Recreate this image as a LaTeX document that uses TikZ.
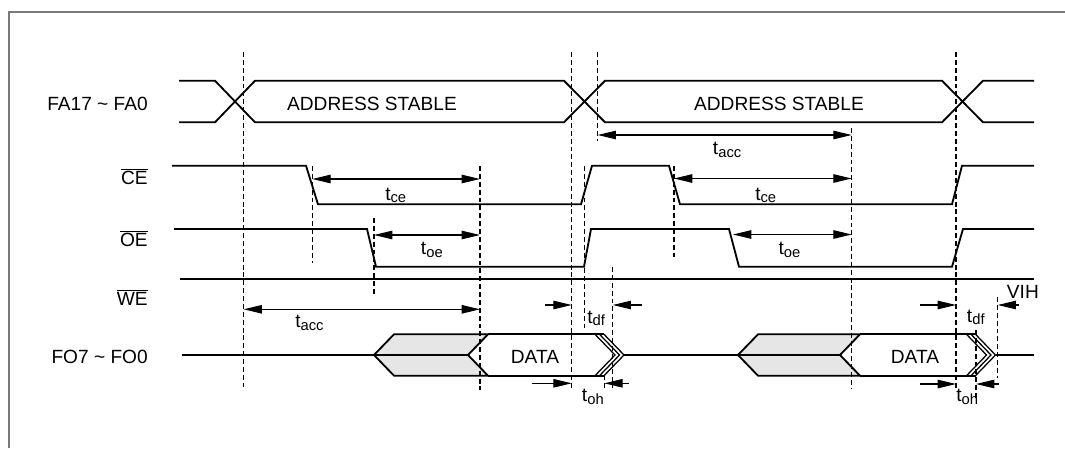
\documentclass[tikz,border=0pt]{standalone}
\usepackage{fontspec}
\setmainfont{Liberation Sans}
\usepackage{tikz}
\usetikzlibrary{arrows.meta}
\definecolor{framegray}{HTML}{7A7A7A}
\definecolor{datagray}{HTML}{E6E6E6}
\newcommand{\tsig}[1]{t\raisebox{-2pt}{\fontsize{10.5}{10.5}\selectfont #1}}
\newcommand{\ovl}[1]{$\overline{\mbox{#1}}$}

\begin{document}
\begin{tikzpicture}[x=0.025cm,y=-0.025cm,
  font=\fontsize{13.6}{15}\selectfont,
  >={Triangle[length=13pt,width=6pt]},
  sig/.style={line width=1.3pt},
  chev/.style={line width=0.9pt},
  guide/.style={line width=0.8pt,dash pattern=on 3.5pt off 2.1pt},
  dim/.style={line width=0.8pt,<->},
  onearr/.style={line width=0.8pt,->},
  signame/.style={anchor=base east,inner sep=0pt},
  lbl/.style={anchor=base,inner sep=0pt},
  tlbl/.style={anchor=base west,inner sep=0pt}
]
\useasboundingbox (0,0) rectangle (1065,448);
\draw[framegray,line width=1.1pt] (9,448) -- (9,12) -- (1065,12);

\node[signame] (fa) at (148,110) {FA17 \textasciitilde{} FA0};
\node[signame] (ce) at (148,184.3) {\ovl{CE}};
\node[signame] (oe) at (148,246.7) {\ovl{OE}};
\node[signame] (we) at (148,305) {\ovl{WE}};
\node[signame] (fo) at (148,363.3) {FO7 \textasciitilde{} FO0};

\draw[sig] (179,80.7) -- (215,80.7) -- (255,122.3) -- (564,122.3) -- (605,80.7) -- (942,80.7) -- (983,122.3) -- (1034,122.3);
\draw[sig] (179,122.3) -- (215,122.3) -- (255,80.7) -- (564,80.7) -- (605,122.3) -- (942,122.3) -- (983,80.7) -- (1034,80.7);
\node[lbl] (as1) at (372,110) {ADDRESS STABLE};
\node[lbl] (as2) at (779,110) {ADDRESS STABLE};

\draw[sig] (172,165.7) -- (306,165.7) -- (318,204.3) -- (581,204.3) -- (592,165.7) -- (669,165.7) -- (680,204.3) -- (952,204.3) -- (962,165.7) -- (1034,165.7);
\draw[sig] (174,229) -- (367,229) -- (376,266.7) -- (584,266.7) -- (591,229) -- (729,229) -- (739,266.7) -- (952,266.7) -- (963,229) -- (1034,229);
\draw[sig] (180,279.3) -- (1034,279.3);

\filldraw[sig,fill=datagray] (374,355) -- (394,334.3) -- (488,334.3) -- (468,355) -- (488,375.7) -- (394,375.7) -- cycle;
\draw[sig] (182,355) -- (468,355);
\draw[sig] (488,334.3) -- (604,334.3);
\draw[sig] (488,375.7) -- (604,375.7);
\draw[chev] (595,334.3) -- (615,355) -- (595,375.7);
\draw[chev] (599.5,334.3) -- (619.5,355) -- (599.5,375.7);
\draw[chev] (604,334.3) -- (624,355) -- (604,375.7);
\draw[sig] (624,355) -- (738,355);
\node[lbl] (data1) at (535,363.3) {DATA};

\filldraw[sig,fill=datagray] (738,355) -- (758,334.3) -- (860,334.3) -- (840,355) -- (860,375.7) -- (758,375.7) -- cycle;
\draw[sig] (738,355) -- (840,355);
\draw[sig] (860,334.3) -- (975.5,334.3);
\draw[sig] (860,375.7) -- (975.5,375.7);
\draw[chev] (966.5,334.3) -- (986.5,355) -- (966.5,375.7);
\draw[chev] (971,334.3) -- (991,355) -- (971,375.7);
\draw[chev] (975.5,334.3) -- (995.5,355) -- (975.5,375.7);
\draw[sig] (995.5,355) -- (1034,355);
\node[lbl] (data2) at (915,363.3) {DATA};

\draw[guide] (243.7,52) -- (243.7,387);
\draw[guide] (312.3,166) -- (312.3,263);
\draw[guide] (374,218) -- (374,294);
\draw[guide] (480,166) -- (480,390);
\draw[guide] (571.7,52) -- (571.7,388);
\draw[guide] (584.3,166) -- (584.3,328);
\draw[guide] (597.7,52) -- (597.7,141);
\draw[guide] (604.3,375) -- (604.3,390);
\draw[guide] (612.7,267) -- (612.7,388);
\draw[guide] (674,166) -- (674,257);
\draw[guide] (851.7,128) -- (851.7,388);
\draw[guide] (956,52) -- (956,388);
\draw[guide] (976,330) -- (976,400);
\draw[guide] (997.7,297) -- (997.7,378);

\draw[dim] (243.7,309.3) -- (480,309.3);
\draw[dim] (597.7,135) -- (851.7,135);
\draw[dim] (312.3,179) -- (480,179);
\draw[dim] (674,178.5) -- (851.7,178.5);
\draw[dim] (374,235) -- (480,235);
\draw[dim] (733,234.5) -- (851.7,234.5);
\draw[onearr] (545,305) -- (571.7,305);
\draw[onearr] (642.3,305) -- (612.7,305);
\draw[onearr] (920,305) -- (956,305);
\draw[onearr] (1019.3,305) -- (997.7,305);
\draw[onearr] (531.7,383.3) -- (571.7,383.3);
\draw[onearr] (629.3,383.3) -- (604.3,383.3);
\draw[onearr] (920,384) -- (956,384);
\draw[onearr] (999,384) -- (976,384);

\node[tlbl] (tacc1) at (295,327.3) {\tsig{acc}};
\node[tlbl] (tacc2) at (712.7,154.5) {\tsig{acc}};
\node[tlbl] (tce1) at (385,200) {\tsig{ce}};
\node[tlbl] (tce2) at (755,200) {\tsig{ce}};
\node[tlbl] (toe1) at (420.7,254.3) {\tsig{oe}};
\node[tlbl] (toe2) at (778.3,254.3) {\tsig{oe}};
\node[tlbl] (tdf1) at (587,323) {\tsig{df}};
\node[tlbl] (tdf2) at (966.7,322) {\tsig{df}};
\node[tlbl] (toh1) at (581.7,401.5) {\tsig{oh}};
\node[tlbl] (toh2) at (956,401.5) {\tsig{oh}};
\node[tlbl] (vih) at (1006.7,298.3) {VIH};
\end{tikzpicture}
\end{document}
